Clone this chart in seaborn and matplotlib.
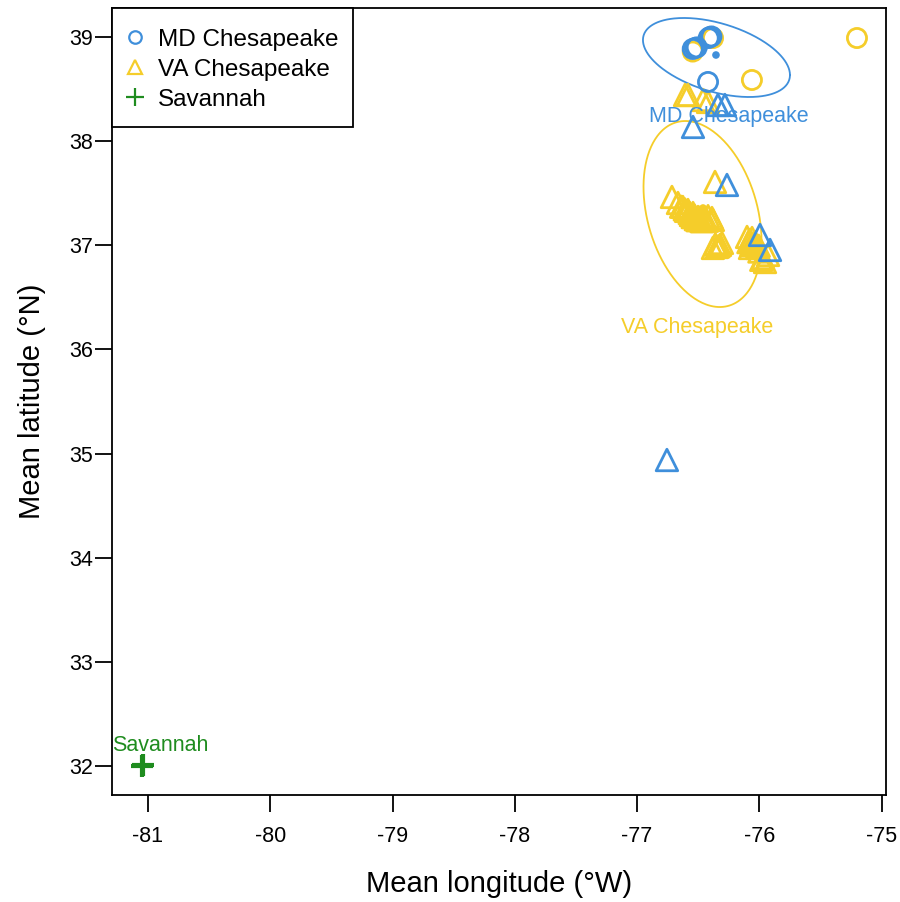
import numpy as np
import pandas as pd
import matplotlib
matplotlib.use("Agg")
import matplotlib.pyplot as plt
from matplotlib.lines import Line2D
from matplotlib.patches import Rectangle
import seaborn as sns

# ---------------- data ----------------
# MD Chesapeake origin (circles), coloured by assigned group
md_as_md_lon = [-76.527, -76.545, -76.512, -76.404, -76.392, -76.415, -76.420]
md_as_md_lat = [38.894, 38.885, 38.900, 39.000, 39.005, 38.990, 38.568]
md_as_va_lon = [-76.545, -76.379, -75.202, -76.061]
md_as_va_lat = [38.860, 38.990, 38.990, 38.587]

# VA Chesapeake origin (triangles), coloured by assigned group
va_as_md_lon = [-76.339, -76.282, -76.543, -76.265, -75.995, -75.913, -76.756]
va_as_md_lat = [38.347, 38.347, 38.136, 37.579, 37.099, 36.955, 34.938]
va_as_va_lon = [-76.608, -76.584, -76.461, -76.420, -76.363, -76.715,
                -76.666, -76.626, -76.584, -76.543, -76.502, -76.445,
                -76.388, -76.380, -76.600, -76.560, -76.520, -76.480,
                -76.640, -76.610, -76.570, -76.530, -76.490, -76.455,
                -76.420, -76.545, -76.505, -76.470, -76.430,
                -76.347, -76.322, -76.306, -76.380, -76.335, -76.360,
                -76.101, -76.077, -76.052, -76.020, -76.077, -76.090,
                -76.060, -76.035, -76.005, -76.065,
                -75.954, -75.970, -75.929, -76.040, -76.000, -75.985]
va_as_va_lat = [38.443, 38.443, 38.395, 38.376, 37.608, 37.464,
                37.406, 37.368, 37.339, 37.310, 37.272, 37.262,
                37.262, 37.243, 37.330, 37.290, 37.250, 37.240,
                37.370, 37.345, 37.310, 37.285, 37.265, 37.250,
                37.280, 37.270, 37.240, 37.230, 37.235,
                36.983, 37.003, 37.022, 36.974, 36.990, 37.010,
                37.080, 37.051, 37.003, 36.974, 36.974, 37.030,
                37.070, 37.030, 36.995, 37.005,
                36.839, 36.878, 36.907, 37.020, 36.940, 36.860]

# Savannah
sav_lon = [-81.05, -81.04]
sav_lat = [32.00, 32.01]

# group centroids and dispersion ellipses (centre, covariance-like matrix)
groups = ["MD Chesapeake", "VA Chesapeake", "Savannah"]
cent_lon = [-76.355, -76.461, -81.05]
cent_lat = [38.827, 37.358, 32.00]
ell_center = {"MD Chesapeake": (-76.351, 38.803), "VA Chesapeake": (-76.465, 37.300)}
ell_cov = {"MD Chesapeake": [[0.3613, -0.1010], [-0.1010, 0.1439]],
           "VA Chesapeake": [[0.2328, -0.1256], [-0.1256, 0.7975]]}
label_lon = [-76.249, -76.510, -80.898]
label_lat = [38.241, 36.215, 32.192]

colors = {"MD Chesapeake": "#3f8fdb", "VA Chesapeake": "#f5cd2a", "Savannah": "#1f8c1f"}
markers = {"MD Chesapeake": "o", "VA Chesapeake": "^", "Savannah": "+"}

# ---------------- figure ----------------
sns.set_theme(style="ticks")
plt.rcParams["font.family"] = ["Liberation Sans", "DejaVu Sans"]
plt.rcParams["text.color"] = "black"

fig = plt.figure(figsize=(9.0, 9.02), dpi=100)
ax = fig.add_axes([0.1244, 0.1186, 0.86, 0.8725])

def pts(lon, lat, origin, assigned):
    return pd.DataFrame({"lon": lon, "lat": lat, "origin": origin, "assigned": assigned})

df = pd.concat([
    pts(md_as_va_lon, md_as_va_lat, "MD Chesapeake", "VA Chesapeake"),
    pts(va_as_va_lon, va_as_va_lat, "VA Chesapeake", "VA Chesapeake"),
    pts(md_as_md_lon, md_as_md_lat, "MD Chesapeake", "MD Chesapeake"),
    pts(va_as_md_lon, va_as_md_lat, "VA Chesapeake", "MD Chesapeake"),
    pts(sav_lon, sav_lat, "Savannah", "Savannah"),
], ignore_index=True)

order = [("VA Chesapeake", "MD Chesapeake"), ("VA Chesapeake", "VA Chesapeake"),
         ("MD Chesapeake", "MD Chesapeake"), ("MD Chesapeake", "VA Chesapeake"),
         ("Savannah", "Savannah")]
for assigned, origin in order:
    sub = df[(df.assigned == assigned) & (df.origin == origin)]
    if sub.empty:
        continue
    col = colors[assigned]
    mk = markers[origin]
    if mk == "+":
        sns.scatterplot(data=sub, x="lon", y="lat", marker="+", color=col,
                        s=230, linewidths=3.0, ax=ax, legend=False, zorder=3)
    else:
        sz = 190 if mk == "o" else 240
        sns.scatterplot(data=sub, x="lon", y="lat", marker=mk, facecolors="none",
                        edgecolor=col, color=col, s=sz, linewidths=2.0, ax=ax,
                        legend=False, zorder=3)

# ellipses
t = np.linspace(0, 2 * np.pi, 300)
circ = np.vstack([np.cos(t), np.sin(t)])
for g in ["MD Chesapeake", "VA Chesapeake"]:
    L = np.linalg.cholesky(np.array(ell_cov[g]))
    xy = L @ circ
    ex = ell_center[g][0] + xy[0]
    ey = ell_center[g][1] + xy[1]
    sns.lineplot(x=ex, y=ey, sort=False, estimator=None, color=colors[g],
                 linewidth=1.3, ax=ax, zorder=2)

# centroids
cdf = pd.DataFrame({"lon": cent_lon[:2], "lat": cent_lat[:2], "g": groups[:2]})
sns.scatterplot(data=cdf, x="lon", y="lat", hue="g", palette=colors, s=30,
                edgecolor="none", ax=ax, legend=False, zorder=4)

# group labels
for g, lx, ly in zip(groups, label_lon, label_lat):
    ax.text(lx, ly, g, color=colors[g], fontsize=15.5, ha="center", va="center", zorder=5)

ax.set_xlim(-81.294, -74.965)
ax.set_ylim(31.721, 39.278)
ax.set_xticks([-81, -80, -79, -78, -77, -76, -75])
ax.set_yticks([32, 33, 34, 35, 36, 37, 38, 39])
ax.set_xticklabels(["-81", "-80", "-79", "-78", "-77", "-76", "-75"])
ax.set_yticklabels(["32", "33", "34", "35", "36", "37", "38", "39"])
ax.tick_params(axis="both", length=12, width=1.3, color="black", labelsize=15.5,
               labelcolor="black")
ax.tick_params(axis="x", pad=10)
ax.tick_params(axis="y", pad=1.5)
for sp in ax.spines.values():
    sp.set_visible(True)
    sp.set_color("black")
    sp.set_linewidth(1.3)
ax.set_xlabel("Mean longitude (°W)", fontsize=21, color="black", labelpad=17)
ax.set_ylabel("Mean latitude (°N)", fontsize=21, color="black", labelpad=17)

handles = [
    Line2D([], [], linestyle="none", marker="o", markersize=9, markerfacecolor="none",
           markeredgecolor=colors["MD Chesapeake"], markeredgewidth=1.6),
    Line2D([], [], linestyle="none", marker="^", markersize=10, markerfacecolor="none",
           markeredgecolor=colors["VA Chesapeake"], markeredgewidth=1.6),
    Line2D([], [], linestyle="none", marker="+", markersize=13,
           markeredgecolor=colors["Savannah"], markeredgewidth=1.6),
]
# legend box (frame drawn separately so its padding matches the original)
ax.add_patch(Rectangle((0, 0.8488), 0.3114, 0.1512, transform=ax.transAxes,
                       facecolor="white", edgecolor="black", linewidth=1.3,
                       zorder=6, clip_on=False))
leg = ax.legend(handles, groups, loc="upper left", bbox_to_anchor=(-0.0094, 1.0),
                borderaxespad=0, fontsize=17.5, frameon=False, handlelength=0.8,
                handletextpad=0.54, labelspacing=0.33, borderpad=0.85)
leg.set_zorder(7)
for txt in leg.get_texts():
    txt.set_color("black")

fig.savefig("out.png", dpi=100, facecolor="white")
